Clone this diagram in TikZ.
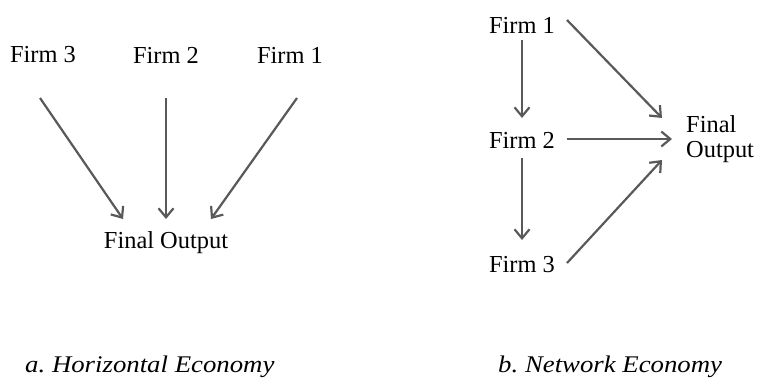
\documentclass[tikz,border=0pt]{standalone}
\usepackage{fontspec}
\setmainfont{Liberation Serif}
\usetikzlibrary{arrows.meta}
\definecolor{arr}{HTML}{595959}
\frenchspacing
\tikzset{
  lbl/.style={font=\fontsize{24.5}{25}\selectfont, inner sep=0pt},
  captxt/.style={font=\fontsize{24}{26}\selectfont\itshape, inner sep=0pt, xscale=1.12},
  conn/.style={draw=arr, line width=2.2bp, -{Straight Barb[length=9bp,width=15bp,line width=2.2bp]}}
}
\begin{document}
\begin{tikzpicture}[x=1bp,y=-1bp]
\useasboundingbox (0,0) rectangle (758,381);
% left panel
\node[lbl] (l3) at (43,55) {Firm 3};
\node[lbl] (l2) at (166,55) {Firm 2};
\node[lbl] (l1) at (290,55) {Firm 1};
\node[lbl] (lf) at (166,243) {Final Output};
\coordinate (l3s) at (40,98);  \coordinate (l3e) at (123,219);
\coordinate (l2s) at (166,98); \coordinate (l2e) at (166,219);
\coordinate (l1s) at (297,98); \coordinate (l1e) at (211,219);
\draw[conn] (l3s) -- (l3e);
\draw[conn] (l2s) -- (l2e);
\draw[conn] (l1s) -- (l1e);
% right panel
\node[lbl] (r1) at (522,25) {Firm 1};
\node[lbl] (r2) at (522,140) {Firm 2};
\node[lbl] (r3) at (522,265) {Firm 3};
\node[lbl, align=left, anchor=west] (rf) at (686,139) {Final\\Output};
\coordinate (a1) at (522,40);  \coordinate (a2) at (522,118);
\coordinate (b1) at (522,158); \coordinate (b2) at (522,240);
\coordinate (c1) at (567,20);  \coordinate (c2) at (662,118);
\coordinate (d1) at (567,139); \coordinate (d2) at (672,139);
\coordinate (e1) at (567,263); \coordinate (e2) at (662,160);
\draw[conn] (a1) -- (a2);
\draw[conn] (b1) -- (b2);
\draw[conn] (c1) -- (c2);
\draw[conn] (d1) -- (d2);
\draw[conn] (e1) -- (e2);
% captions
\node[captxt, anchor=west] (ca) at (25,367) {a. Horizontal Economy};
\node[captxt, anchor=west] (cb) at (498,367) {b. Network Economy};
\end{tikzpicture}
\end{document}
